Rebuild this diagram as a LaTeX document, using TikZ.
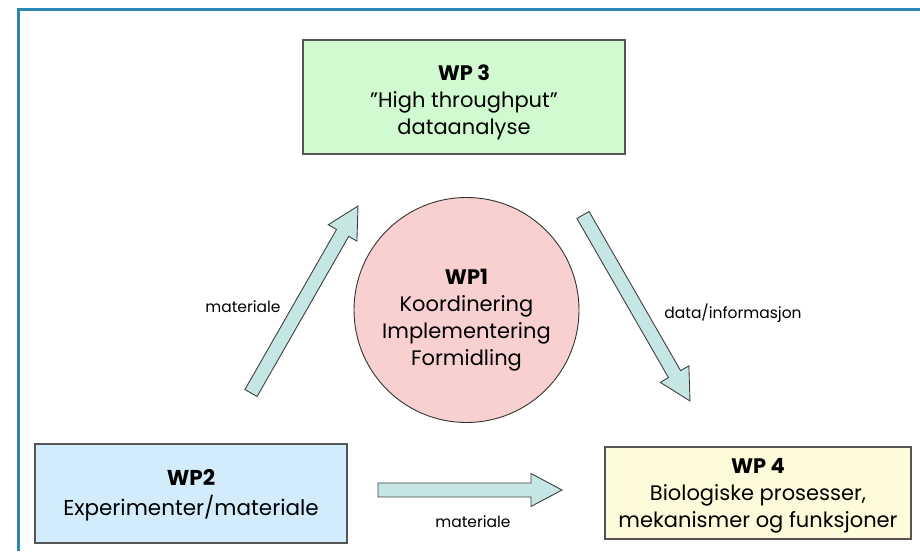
\documentclass[tikz,border=0pt]{standalone}
\usepackage{fontspec}
\setmainfont{Poppins}
\usetikzlibrary{calc}
\definecolor{frameblue}{RGB}{43,136,181}
\definecolor{boxline}{RGB}{85,85,85}
\definecolor{greenfill}{RGB}{210,250,208}
\definecolor{bluefill}{RGB}{210,236,252}
\definecolor{yellowfill}{RGB}{255,251,218}
\definecolor{pinkfill}{RGB}{249,208,208}
\definecolor{arrowfill}{RGB}{197,230,228}
\tikzset{
  wpbox/.style={draw=boxline, line width=1.2pt, align=center, inner sep=0pt},
  wptext/.style={align=center, inner sep=0pt, font=\fontsize{21}{27}\selectfont},
  wpcircle/.style={draw=black!80, line width=0.9pt, circle, fill=pinkfill, inner sep=0pt},
  blk/.style={draw=black!75, line width=0.9pt, fill=arrowfill, line join=miter},
  lbl/.style={font=\fontsize{15.5}{18}\selectfont, inner sep=0pt}
}
\newcommand{\blockarr}[3]{%
  \coordinate (#3base) at ($(#2)!31pt!(#1)$);
  \draw[blk] ($(#1)!7pt!90:(#2)$) -- ($(#3base)!7pt!90:(#2)$) -- ($(#3base)!16.5pt!90:(#2)$)
    -- (#2) -- ($(#3base)!16.5pt!-90:(#2)$) -- ($(#3base)!7pt!-90:(#2)$) -- ($(#1)!7pt!-90:(#2)$) -- cycle;}
\begin{document}
\begin{tikzpicture}[x=1pt,y=1pt]
\useasboundingbox (0,0) rectangle (920,551);
\fill[white] (0,0) rectangle (920,551);
% frame
\coordinate (fbl) at (18.5,0);
\coordinate (ftl) at (18.5,541.5);
\coordinate (ftr) at (920,541.5);
\draw[frameblue, line width=2.2pt] (fbl) -- (ftl) -- (ftr);
% boxes
\node[wpbox, fill=greenfill, minimum width=322pt, minimum height=114pt] (wp3) at (464,454) {};
\node[wptext] (wp3t) at (464,449)
  {\textbf{WP 3}\\\char"22 High throughput''\\dataanalyse};
\node[wpbox, fill=bluefill, minimum width=312pt, minimum height=99pt] (wp2) at (191,57.5) {};
\node[wptext, font=\fontsize{21.5}{30}\selectfont] (wp2t) at (191,56)
  {\textbf{WP2}\\Experimenter/materiale};
\node[wpbox, fill=yellowfill, minimum width=306pt, minimum height=92pt] (wp4) at (758,58) {};
\node[wptext] (wp4t) at (758,55)
  {\textbf{WP 4}\\Biologiske prosesser,\\mekanismer og funksjoner};
\node[wpcircle, minimum size=225pt] (wp1) at (466.5,241) {};
\node[wptext] (wp1t) at (466.5,231)
  {\textbf{WP1}\\Koordinering\\Implementering\\Formidling};
% arrows
\coordinate (a1t) at (251,158);
\coordinate (a1h) at (358,345);
\blockarr{a1t}{a1h}{a1}
\coordinate (a2t) at (583,336);
\coordinate (a2h) at (690,150);
\blockarr{a2t}{a2h}{a2}
\coordinate (a3t) at (378,61);
\coordinate (a3h) at (562,61);
\blockarr{a3t}{a3h}{a3}
% labels
\node[lbl] (l1) at (243,244) {materiale};
\node[lbl] (l2) at (733,238) {data/informasjon};
\node[lbl] (l3) at (473,29) {materiale};
\end{tikzpicture}
\end{document}
